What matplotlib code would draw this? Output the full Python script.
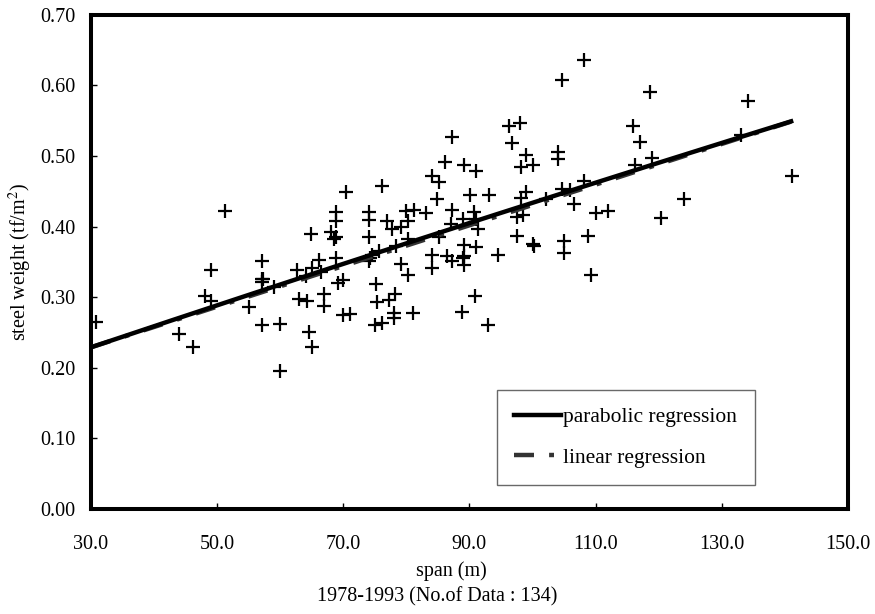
import matplotlib
matplotlib.use("Agg")
import matplotlib.pyplot as plt
import numpy as np

plt.rcParams['font.family'] = ['Liberation Serif', 'DejaVu Serif']
plt.rcParams['mathtext.fontset'] = 'stix'

span = [30.8, 44.0, 46.1, 48.1, 49.1, 49.1, 51.2, 55.1, 57.1, 57.1,
        57.1, 59.0, 57.1, 60.0, 60.0, 62.6, 65.0, 64.1, 66.5, 64.9,
        66.1, 64.2, 67.0, 67.0, 64.5, 65.0, 68.8, 68.0, 68.6, 68.8,
        69.1, 69.9, 70.0, 68.8, 70.4, 71.0, 76.1, 74.1, 74.1, 80.0,
        81.2, 83.1, 87.2, 90.8, 84.9, 84.1, 85.2, 86.2, 87.2, 89.2,
        91.1, 90.1, 93.1, 96.3, 98.0, 96.8, 98.9, 98.1, 100.1, 99.0,
        98.1, 102.1, 104.1, 104.1, 104.6, 108.1, 104.6, 106.0, 106.6, 108.1,
        110.0, 112.0, 118.7, 116.0, 117.0, 116.3, 119.0, 134.1, 133.0, 141.2,
        124.0, 120.3, 76.9, 77.8, 79.1, 80.2, 74.0, 78.3, 80.2, 74.0,
        74.6, 75.7, 79.1, 80.2, 75.2, 75.4, 77.3, 78.2, 78.1, 78.1,
        81.0, 75.1, 76.1, 84.1, 84.1, 86.5, 87.2, 89.2, 89.2, 89.2,
        91.0, 88.9, 90.9, 93.0, 94.6, 87.0, 85.2, 91.3, 89.0, 97.6,
        98.5, 97.6, 100.2, 100.0, 105.0, 105.0, 108.8, 109.2, 91.0, 57.2,
        74.2, 89.0, 68.8, 62.9]
weight = [0.265, 0.248, 0.230, 0.302, 0.295, 0.338, 0.422, 0.286, 0.351, 0.326,
          0.322, 0.314, 0.261, 0.262, 0.196, 0.339, 0.341, 0.330, 0.336, 0.389,
          0.353, 0.294, 0.305, 0.288, 0.250, 0.229, 0.408, 0.393, 0.382, 0.356,
          0.320, 0.325, 0.275, 0.420, 0.449, 0.276, 0.458, 0.420, 0.410, 0.422,
          0.424, 0.419, 0.423, 0.421, 0.439, 0.471, 0.463, 0.492, 0.527, 0.487,
          0.478, 0.445, 0.445, 0.543, 0.546, 0.518, 0.502, 0.484, 0.487, 0.449,
          0.441, 0.439, 0.505, 0.495, 0.608, 0.636, 0.453, 0.452, 0.432, 0.465,
          0.419, 0.422, 0.590, 0.543, 0.520, 0.487, 0.497, 0.578, 0.529, 0.471,
          0.439, 0.412, 0.408, 0.396, 0.399, 0.408, 0.385, 0.373, 0.383, 0.351,
          0.360, 0.365, 0.347, 0.331, 0.318, 0.293, 0.296, 0.304, 0.278, 0.270,
          0.278, 0.261, 0.263, 0.360, 0.341, 0.358, 0.351, 0.374, 0.358, 0.346,
          0.371, 0.279, 0.301, 0.261, 0.360, 0.404, 0.385, 0.396, 0.411, 0.414,
          0.416, 0.386, 0.372, 0.375, 0.380, 0.362, 0.387, 0.332, 0.411, 0.326,
          0.355, 0.355, 0.385, 0.297]

# regression coefficients (y = c0 + c1*x + c2*x^2)
parabolic_coef = [0.1383, 0.003054, -0.000001]
linear_coef = [0.1426, 0.00288]
fit_range = [30.0, 141.0]

xticks = [30.0, 50.0, 70.0, 90.0, 110.0, 130.0, 150.0]
yticks = [0.00, 0.10, 0.20, 0.30, 0.40, 0.50, 0.60, 0.70]

fig = plt.figure(figsize=(8.75, 6.14), dpi=100)
ax = fig.add_axes([0.104, 0.171, 0.865, 0.805])

ax.plot(span, weight, linestyle='none', marker='+', color='black',
        markersize=10, markeredgewidth=1.6, zorder=2)

xs = np.linspace(fit_range[0], fit_range[1], 200)
yp = parabolic_coef[0] + parabolic_coef[1] * xs + parabolic_coef[2] * xs ** 2
yl = linear_coef[0] + linear_coef[1] * xs
ax.plot(xs, yl, color='#333333', linewidth=3.2, dashes=(4.5, 3.4, 1.1, 3.4),
        label='linear regression', zorder=3)
ax.plot(xs, yp, color='black', linewidth=3.2, label='parabolic regression',
        zorder=4)

ax.set_xlim(30, 150)
ax.set_ylim(0, 0.70)
ax.set_xticks(xticks)
ax.set_xticklabels([f"{v:.1f}" for v in xticks])
ax.set_yticks(yticks)
ax.set_yticklabels([f"{v:.2f}" for v in yticks])
ax.tick_params(direction='in', length=4, width=1, labelsize=14.5)
ax.tick_params(axis='x', pad=19)
ax.tick_params(axis='y', pad=11)
for s in ax.spines.values():
    s.set_linewidth(2.9)

ax.set_ylabel('steel weight (tf/m$^2$)', fontsize=14.5, labelpad=5)
fig.text(451 / 875, 1 - 571 / 614, 'span (m)', fontsize=14.5,
         ha='center', va='center')
fig.text(437 / 875, 1 - 597 / 614, '1978-1993 (No.of Data : 134)', fontsize=14.5,
         ha='center', va='center')

handles, labels = ax.get_legend_handles_labels()
leg = ax.legend(handles[::-1], labels[::-1], loc='lower left',
                bbox_to_anchor=(0.536, 0.049), fontsize=15.5, frameon=True,
                fancybox=False, edgecolor='#444444', handlelength=2.2,
                handletextpad=0.1, labelspacing=0.95, borderpad=0.8,
                borderaxespad=0)
leg.get_frame().set_linewidth(1.0)

fig.savefig('out.png', dpi=100)
